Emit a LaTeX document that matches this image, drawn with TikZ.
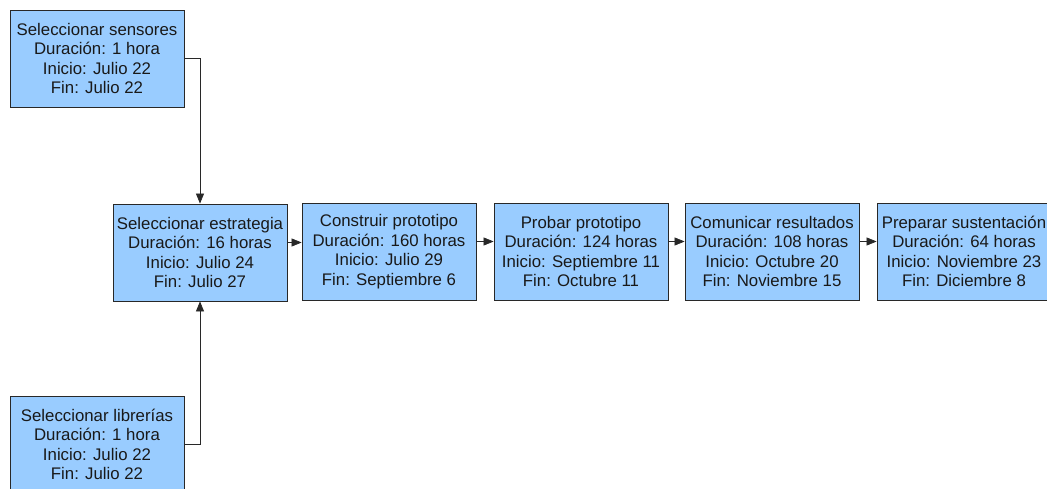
\documentclass[tikz,border=0pt]{standalone}
\usepackage{fontspec}
\setmainfont{Liberation Sans}
\usetikzlibrary{arrows.meta,positioning,calc}
\definecolor{taskfill}{RGB}{153,204,255}
\definecolor{ink}{RGB}{40,40,40}
\tikzset{
  task/.style={draw=ink,line width=0.8pt,fill=taskfill,minimum width=174pt,minimum height=97pt,
               inner sep=0pt,align=center,text=black!90,font=\fontsize{16.8}{19.5}\selectfont},
  ar/.style={-{Triangle[length=10pt,width=8pt]},draw=ink,line width=0.7pt},
}

\begin{document}
\begin{tikzpicture}[x=1pt,y=-1pt]
  \useasboundingbox (0,0) rectangle (1047,489);
  \clip (0,0) rectangle (1047,489);
  \node[task] (sens) at (97,58.5) {Seleccionar sensores\\Duración: 1 hora\\Inicio: Julio 22\\Fin: Julio 22};
  \node[task] (strat) at (200,252.5) {Seleccionar estrategia\\Duración: 16 horas\\Inicio: Julio 24\\Fin: Julio 27};
  \node[task] (build) at (389,251.5) {Construir prototipo\\Duración: 160 horas\\Inicio: Julio 29\\Fin: Septiembre 6};
  \node[task] (test) at (581,251.5) {Probar prototipo\\Duración: 124 horas\\Inicio: Septiembre 11\\Fin: Octubre 11};
  \node[task] (comm) at (772,251.5) {Comunicar resultados\\Duración: 108 horas\\Inicio: Octubre 20\\Fin: Noviembre 15};
  \node[task] (prep) at (964,251.5) {Preparar sustentación\\Duración: 64 horas\\Inicio: Noviembre 23\\Fin: Diciembre 8};
  \node[task] (libs) at (97,444.5) {Seleccionar librerías\\Duración: 1 hora\\Inicio: Julio 22\\Fin: Julio 22};
  % dependencias
  \draw[ar] (sens.east) -| (strat.north);
  \draw[ar] (libs.east) -| (strat.south);
  \draw[ar] ([yshift=10pt]strat.east) -- ([yshift=10pt]strat.east -| build.west);
  \draw[ar] ([yshift=10pt]build.east) -- ([yshift=10pt]build.east -| test.west);
  \draw[ar] ([yshift=10pt]test.east) -- ([yshift=10pt]test.east -| comm.west);
  \draw[ar] ([yshift=10pt]comm.east) -- ([yshift=10pt]comm.east -| prep.west);
\end{tikzpicture}
\end{document}
